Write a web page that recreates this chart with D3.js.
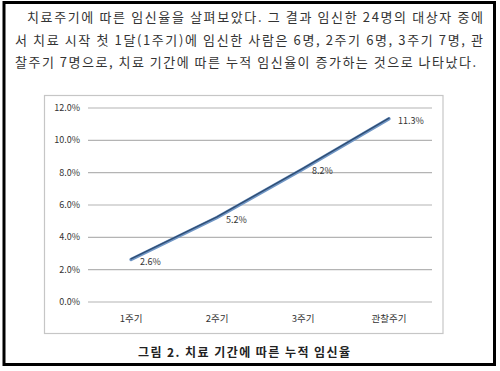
<!DOCTYPE html>
<html><head><meta charset="utf-8">
<script src="https://cdn.jsdelivr.net/npm/d3@7"></script>
<style>
html,body{margin:0;padding:0;background:#fff;}
svg{display:block;}
</style></head>
<body>
<svg id="c" width="500" height="371"></svg>
<script>
const paragraphLines = [
  "치료주기에 따른 임신율을 살펴보았다. 그 결과 임신한 24명의 대상자 중에",
  "서 치료 시작 첫 1달(1주기)에 임신한 사람은 6명, 2주기 6명, 3주기 7명, 관",
  "찰주기 7명으로, 치료 기간에 따른 누적 임신율이 증가하는 것으로 나타났다."
];
const categories = ["1주기", "2주기", "3주기", "관찰주기"];
const values = [0.026, 0.052, 0.082, 0.113];
const valueLabels = ["2.6%", "5.2%", "8.2%", "11.3%"];
const yTicks = [0, 0.02, 0.04, 0.06, 0.08, 0.10, 0.12];
const caption = "그림 2. 치료 기간에 따른 누적 임신율";

const svg = d3.select("#c");
const KR = "'Noto Sans CJK KR', 'Noto Sans', sans-serif";

// outer frame
svg.append("rect").attr("x", 4).attr("y", 2.5).attr("width", 490.5).attr("height", 362)
  .attr("fill", "none").attr("stroke", "#000").attr("stroke-width", 3);

// paragraph
const pStarts = [27, 15, 15];
const pEnds = [483, 483, 476];
const pY = [22, 45, 67];
paragraphLines.forEach((t, i) => {
  svg.append("text").attr("x", pStarts[i]).attr("y", pY[i])
    .attr("font-family", KR).attr("font-size", 13).attr("fill", "#333")
    .attr("textLength", pEnds[i] - pStarts[i]).attr("lengthAdjust", "spacing")
    .text(t);
});

// chart box
svg.append("rect").attr("x", 44.5).attr("y", 95.5).attr("width", 398.5).attr("height", 238)
  .attr("fill", "#fff").attr("stroke", "#c6c6c6").attr("stroke-width", 1.2);

const x = d3.scaleBand().domain(categories).range([88, 432]).padding(0);
const y = d3.scaleLinear().domain([0, 0.12]).range([301.5, 107.5]);
const cx = c => x(c) + x.bandwidth() / 2;

// y axis with gridlines
const ya = svg.append("g").attr("transform", "translate(88,0)")
  .call(d3.axisLeft(y).tickValues(yTicks).tickFormat(d3.format(".1%"))
    .tickSize(-(432 - 88)).tickPadding(8));
ya.select(".domain").remove();
ya.selectAll(".tick line").attr("stroke", "#b4b4b4").attr("stroke-width", 1.2);
ya.selectAll(".tick text").attr("font-family", KR).attr("font-size", 9).attr("fill", "#333");

// x axis labels
const xa = svg.append("g").attr("transform", "translate(0,301.5)")
  .call(d3.axisBottom(x).tickSize(0).tickPadding(14));
xa.select(".domain").remove();
xa.selectAll(".tick text").attr("font-family", KR).attr("font-size", 9.5).attr("fill", "#333");

// line
const line = d3.line().x((d, i) => cx(categories[i])).y(d => y(d));
svg.append("path").datum(values).attr("d", line)
  .attr("fill", "none").attr("stroke", "#6f95c4").attr("stroke-width", 3.4)
  .attr("stroke-linecap", "round");
svg.append("path").datum(values).attr("d", line)
  .attr("fill", "none").attr("stroke", "#2f4d73").attr("stroke-width", 1.4)
  .attr("transform", "translate(0,-0.6)")
  .attr("stroke-linecap", "round");

// data labels
svg.append("g").selectAll("text").data(values).join("text")
  .attr("x", (d, i) => cx(categories[i]) + 9)
  .attr("y", d => y(d) + 3)
  .attr("dominant-baseline", "middle")
  .attr("font-family", KR).attr("font-size", 9).attr("fill", "#333")
  .text((d, i) => valueLabels[i]);

// caption
svg.append("text").attr("x", 138).attr("y", 357)
  .attr("font-family", KR).attr("font-size", 12).attr("font-weight", "bold").attr("fill", "#222")
  .attr("textLength", 212).attr("lengthAdjust", "spacing")
  .text(caption);
</script>
</body></html>
